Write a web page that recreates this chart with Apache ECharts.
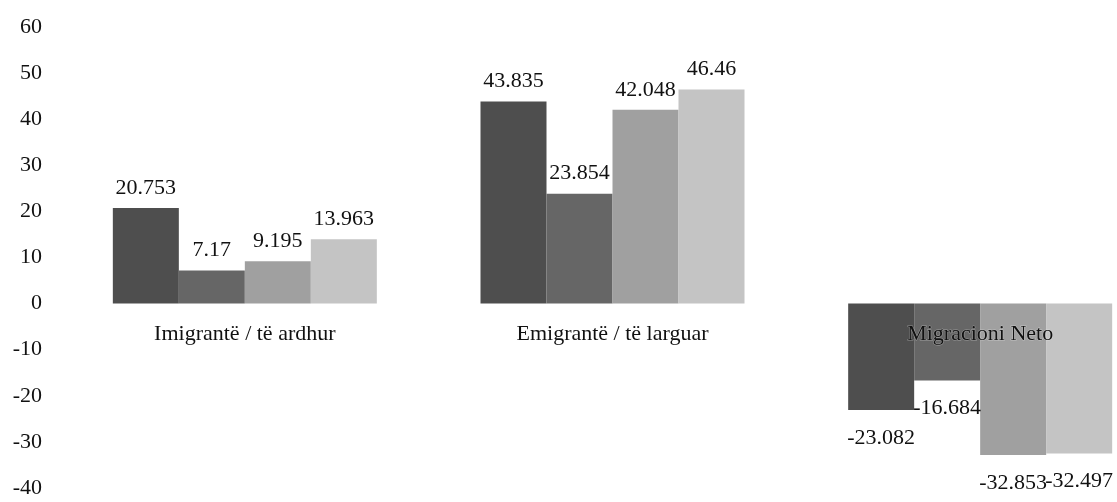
<!DOCTYPE html>
<html>
<head>
<meta charset="utf-8">
<script src="https://cdn.jsdelivr.net/npm/echarts@6/dist/echarts.min.js"></script>
<style>html,body{margin:0;padding:0;background:#fff;}#c{width:1117px;height:502px;}</style>
</head>
<body>
<div id="c"></div>
<script>
const categories = ['Imigrantë / të ardhur', 'Emigrantë / të larguar', 'Migracioni Neto'];
const series1 = [20.753, 43.835, -23.082];
const series2 = [7.17, 23.854, -16.684];
const series3 = [9.195, 42.048, -32.853];
const series4 = [13.963, 46.46, -32.497];
const colors = ['#4e4e4e', '#666666', '#a0a0a0', '#c4c4c4'];

const font = 'Liberation Serif';
function mk(data, color) {
  return {
    type: 'bar',
    data: data.map(function (v) {
      return v < 0 ? { value: v, label: { position: 'bottom', distance: 17 } } : v;
    }),
    barWidth: 66,
    barGap: '0%',
    itemStyle: { color: color },
    label: {
      show: true,
      position: 'top',
      distance: 9,
      fontFamily: font,
      fontSize: 22,
      color: '#111'
    }
  };
}
const all = [series1, series2, series3, series4];
const series = all.map(function (d, i) { return mk(d, colors[i]); });

const chart = echarts.init(document.getElementById('c'));
chart.setOption({
  animation: false,
  grid: { left: 61, right: -47, top: 27, bottom: 14, containLabel: false, outerBoundsMode: 'none' },
  xAxis: {
    type: 'category',
    data: categories,
    position: 'bottom',
    z: 10,
    axisLine: { show: false, onZero: false },
    axisTick: { show: false },
    axisLabel: { fontFamily: font, fontSize: 22, color: '#111', margin: -165,
      textBorderColor: 'rgba(255,255,255,0.35)', textBorderWidth: 1 },
    splitLine: { show: false }
  },
  yAxis: {
    type: 'value',
    min: -40, max: 60, interval: 10,
    axisLine: { show: false },
    axisTick: { show: false },
    splitLine: { show: false },
    axisLabel: { fontFamily: font, fontSize: 22, color: '#111', margin: 19, align: 'right' }
  },
  series: series
});
</script>
</body>
</html>
